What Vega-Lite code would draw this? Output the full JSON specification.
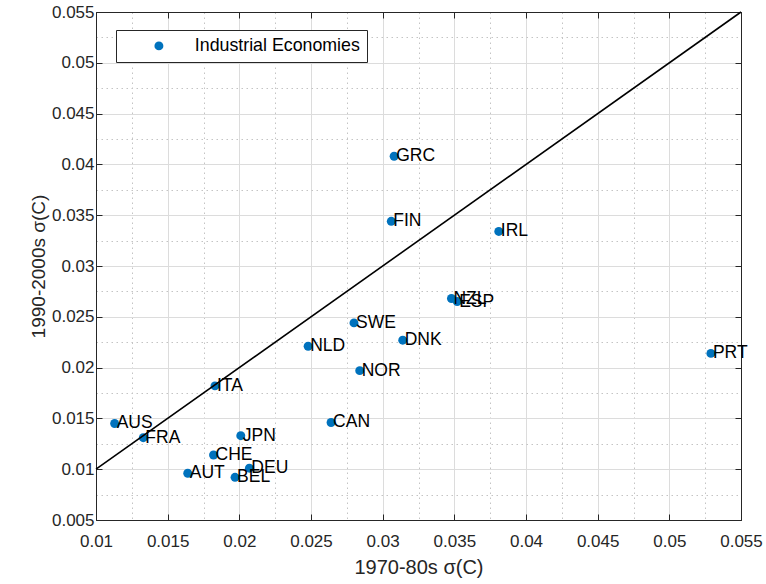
{
  "$schema": "https://vega.github.io/schema/vega-lite/v6.json",
  "width": 645,
  "height": 508,
  "autosize": {"type": "none"},
  "padding": {"left": 96, "top": 12, "right": 25, "bottom": 64},
  "background": "white",
  "config": {
    "font": "Liberation Sans",
    "view": {"stroke": "#262626", "strokeWidth": 1}
  },
  "datasets": {
    "econ": [
      {"code": "AUS", "x": 0.0113, "y": 0.0145, "group": "Industrial Economies"},
      {"code": "FRA", "x": 0.0133, "y": 0.0131, "group": "Industrial Economies"},
      {"code": "ITA", "x": 0.0183, "y": 0.0182, "group": "Industrial Economies"},
      {"code": "CHE", "x": 0.0182, "y": 0.0114, "group": "Industrial Economies"},
      {"code": "AUT", "x": 0.0164, "y": 0.0096, "group": "Industrial Economies"},
      {"code": "BEL", "x": 0.0197, "y": 0.0092, "group": "Industrial Economies"},
      {"code": "JPN", "x": 0.0201, "y": 0.0133, "group": "Industrial Economies"},
      {"code": "DEU", "x": 0.0207, "y": 0.0101, "group": "Industrial Economies"},
      {"code": "CAN", "x": 0.0264, "y": 0.0146, "group": "Industrial Economies"},
      {"code": "NLD", "x": 0.0248, "y": 0.0221, "group": "Industrial Economies"},
      {"code": "SWE", "x": 0.0280, "y": 0.0244, "group": "Industrial Economies"},
      {"code": "NOR", "x": 0.0284, "y": 0.0197, "group": "Industrial Economies"},
      {"code": "DNK", "x": 0.0314, "y": 0.0227, "group": "Industrial Economies"},
      {"code": "NZL", "x": 0.0348, "y": 0.0268, "group": "Industrial Economies"},
      {"code": "ESP", "x": 0.0352, "y": 0.0265, "group": "Industrial Economies"},
      {"code": "FIN", "x": 0.0306, "y": 0.0344, "group": "Industrial Economies"},
      {"code": "GRC", "x": 0.0308, "y": 0.0408, "group": "Industrial Economies"},
      {"code": "IRL", "x": 0.0381, "y": 0.0334, "group": "Industrial Economies"},
      {"code": "PRT", "x": 0.0529, "y": 0.0214, "group": "Industrial Economies"}
    ],
    "diag": [
      {"x": 0.01, "y": 0.01},
      {"x": 0.055, "y": 0.055}
    ]
  },
  "resolve": {"axis": {"x": "independent", "y": "independent"}},
  "layer": [
    {
      "data": {"name": "econ"},
      "mark": {"type": "circle", "opacity": 1, "size": 80},
      "encoding": {
        "x": {
          "field": "x", "type": "quantitative",
          "scale": {"domain": [0.01, 0.055], "nice": false, "zero": false},
          "axis": {
            "orient": "bottom",
            "values": [0.01, 0.0125, 0.015, 0.0175, 0.02, 0.0225, 0.025, 0.0275, 0.03, 0.0325, 0.035, 0.0375, 0.04, 0.0425, 0.045, 0.0475, 0.05, 0.0525, 0.055],
            "labelExpr": "abs(datum.value*200 - round(datum.value*200)) < 0.01 ? format(datum.value, '~g') : ''",
            "title": "1970-80s σ(C)",
            "grid": true,
            "gridColor": {"condition": {"test": "abs(datum.value*200 - round(datum.value*200)) < 0.01", "value": "#dcdcdc"}, "value": "#c4c4c4"},
            "gridDash": {"condition": {"test": "abs(datum.value*200 - round(datum.value*200)) < 0.01", "value": []}, "value": [1.5, 3.5]},
            "tickOpacity": {"condition": {"test": "abs(datum.value*200 - round(datum.value*200)) < 0.01", "value": 1}, "value": 0},
            "tickSize": -6,
            "tickColor": "#262626",
            "domainColor": "#262626",
            "labelFontSize": 17,
            "labelColor": "#262626",
            "labelPadding": 19,
            "labelFlush": false,
            "labelOverlap": false,
            "titleFontSize": 20,
            "titleFontWeight": "normal",
            "titleColor": "#262626",
            "titlePadding": 8
          }
        },
        "y": {
          "field": "y", "type": "quantitative",
          "scale": {"domain": [0.005, 0.055], "nice": false, "zero": false},
          "axis": {
            "orient": "left",
            "values": [0.005, 0.0075, 0.01, 0.0125, 0.015, 0.0175, 0.02, 0.0225, 0.025, 0.0275, 0.03, 0.0325, 0.035, 0.0375, 0.04, 0.0425, 0.045, 0.0475, 0.05, 0.0525, 0.055],
            "labelExpr": "abs(datum.value*200 - round(datum.value*200)) < 0.01 ? format(datum.value, '~g') : ''",
            "title": "1990-2000s σ(C)",
            "grid": true,
            "gridColor": {"condition": {"test": "abs(datum.value*200 - round(datum.value*200)) < 0.01", "value": "#dcdcdc"}, "value": "#c4c4c4"},
            "gridDash": {"condition": {"test": "abs(datum.value*200 - round(datum.value*200)) < 0.01", "value": []}, "value": [1.5, 3.5]},
            "tickOpacity": {"condition": {"test": "abs(datum.value*200 - round(datum.value*200)) < 0.01", "value": 1}, "value": 0},
            "tickSize": -6,
            "tickColor": "#262626",
            "domainColor": "#262626",
            "labelFontSize": 17,
            "labelColor": "#262626",
            "labelPadding": 8,
            "labelFlush": false,
            "labelOverlap": false,
            "titleFontSize": 19,
            "titleFontWeight": "normal",
            "titleColor": "#262626",
            "titlePadding": 3
          }
        },
        "color": {
          "field": "group", "type": "nominal",
          "scale": {"range": ["#0072BD"]},
          "legend": {
            "orient": "none",
            "legendX": 20,
            "legendY": 18,
            "title": null,
            "strokeColor": "#262626",
            "fillColor": "white",
            "padding": 7,
            "symbolOffset": 27,
            "labelOffset": 27,
            "labelFontSize": 17.8,
            "labelColor": "black",
            "labelLimit": 400,
            "symbolSize": 80,
            "symbolType": "circle",
            "symbolStrokeWidth": 0,
            "symbolOpacity": 1
          }
        }
      }
    },
    {
      "data": {"name": "diag"},
      "mark": {"type": "line", "color": "black", "strokeWidth": 1.6},
      "encoding": {
        "x": {
          "field": "x", "type": "quantitative",
          "scale": {"domain": [0.01, 0.055], "nice": false, "zero": false},
          "axis": {
            "orient": "top",
            "values": [0.01, 0.015, 0.02, 0.025, 0.03, 0.035, 0.04, 0.045, 0.05, 0.055],
            "labels": false, "grid": false, "title": null,
            "tickSize": -6, "tickColor": "#262626", "domainColor": "#262626"
          }
        },
        "y": {
          "field": "y", "type": "quantitative",
          "scale": {"domain": [0.005, 0.055], "nice": false, "zero": false},
          "axis": {
            "orient": "right",
            "values": [0.005, 0.01, 0.015, 0.02, 0.025, 0.03, 0.035, 0.04, 0.045, 0.05, 0.055],
            "labels": false, "grid": false, "title": null,
            "tickSize": -6, "tickColor": "#262626", "domainColor": "#262626"
          }
        }
      }
    },
    {
      "data": {"name": "econ"},
      "mark": {"type": "text", "align": "left", "baseline": "middle", "dx": 2, "fontSize": 17.5, "color": "black"},
      "encoding": {
        "x": {"field": "x", "type": "quantitative", "axis": null},
        "y": {"field": "y", "type": "quantitative", "axis": null},
        "text": {"field": "code"}
      }
    }
  ]
}
